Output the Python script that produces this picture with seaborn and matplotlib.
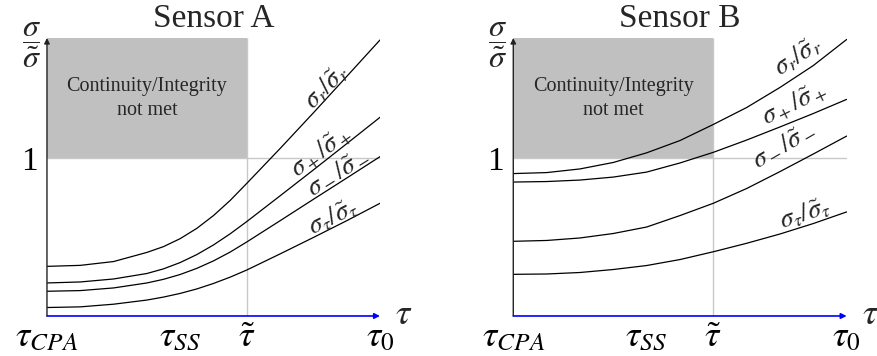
import numpy as np
import pandas as pd
import matplotlib
matplotlib.use("Agg")
import matplotlib.pyplot as plt
import seaborn as sns

# --- data (x in units of the tau axis, y = sigma / sigma~) ---
# Sensor A bends sharply around tau_SS, so it is read on a denser grid there
tau_a = [0, 0.5, 1, 1.5, 1.75, 2, 2.25, 2.5, 2.75, 3, 3.5, 4, 4.5, 5]
a_r = [0.349, 0.355, 0.378, 0.433, 0.468, 0.516, 0.578, 0.655, 0.746, 0.849,
       1.059, 1.274, 1.493, 1.713]
a_plus = [0.249, 0.255, 0.273, 0.306, 0.334, 0.372, 0.420, 0.478, 0.545, 0.619,
          0.774, 0.930, 1.088, 1.247]
a_minus = [0.199, 0.203, 0.219, 0.249, 0.271, 0.300, 0.337, 0.382, 0.435, 0.496,
           0.624, 0.753, 0.881, 1.010]
a_tau = [0.101, 0.105, 0.121, 0.146, 0.164, 0.186, 0.213, 0.246, 0.284, 0.327,
         0.424, 0.523, 0.624, 0.729]

tau_b = [0, 0.5, 1, 1.5, 2, 2.5, 3, 3.5, 4, 4.5, 5]
b_r = [0.908, 0.914, 0.936, 0.975, 1.033, 1.107, 1.204, 1.306, 1.427, 1.559, 1.716]
b_plus = [0.857, 0.860, 0.869, 0.887, 0.917, 0.972, 1.036, 1.110, 1.189, 1.270, 1.355]
b_minus = [0.500, 0.505, 0.520, 0.547, 0.586, 0.655, 0.729, 0.818, 0.920, 1.026, 1.134]
b_tau = [0.301, 0.303, 0.312, 0.330, 0.354, 0.390, 0.437, 0.488, 0.544, 0.607, 0.677]

curve_names = [r"$\sigma_r/\tilde{\sigma}_r$", r"$\sigma_+/\tilde{\sigma}_+$",
               r"$\sigma_-/\tilde{\sigma}_-$", r"$\sigma_\tau/\tilde{\sigma}_\tau$"]

xtick_pos = [0, 1, 2, 3, 4, 5]
xtick_labels = [r"$\tau_{CPA}$", "", r"$\tau_{SS}$", r"$\tilde{\tau}$", "", r"$\tau_0$"]
ytick_pos = [0.5, 1, 1.5]
ytick_labels = ["", "1", ""]

tau_tilde = 3
sigma_limit = 1
ymin, ymax = 0.05, 1.725

# --- style ---
sns.set_theme(style="white")
plt.rcParams["font.family"] = ["Liberation Serif", "DejaVu Serif"]
plt.rcParams["mathtext.fontset"] = "stix"

fig = plt.figure(figsize=(8.78, 3.56), dpi=100)
ax_a = fig.add_axes([0.0535, 0.1124, 0.3793, 0.7809])
ax_b = fig.add_axes([0.5846, 0.1124, 0.3797, 0.7809])

# label placement (x, y, rotation) per curve, per panel
label_pos_a = [(4.2, 1.43, 45), (4.12, 1.04, 36), (4.36, 0.925, 32), (4.3, 0.65, 26)]
label_pos_b = [(4.26, 1.615, 33), (4.22, 1.33, 26), (4.05, 1.085, 30), (4.37, 0.665, 18)]


def draw_panel(ax, title, x, curves, label_pos):
    ax.set_xlim(0, 5)
    ax.set_ylim(ymin, ymax)
    for s in ax.spines.values():
        s.set_visible(False)

    # not-met region and guide lines
    ax.fill_between([0, tau_tilde], sigma_limit, ymax, color="#c0c0c0", lw=0, zorder=0)
    ax.hlines(sigma_limit, 0, 5, color="#c8c8c8", lw=1.0, zorder=1)
    ax.vlines(tau_tilde, ymin, ymax, color="#c8c8c8", lw=1.0, zorder=1)
    ax.text(1.5, 1.36, "Continuity/Integrity\nnot met", ha="center", va="center",
            fontsize=14.5, linespacing=1.35)

    for vals in curves:
        sns.lineplot(x=x, y=vals, ax=ax, color="black", lw=0.9,
                     estimator=None, sort=False, zorder=3)

    for name, (lx, ly, rot) in zip(curve_names, label_pos):
        ax.text(lx, ly, name, ha="center", va="center", rotation=rot,
                rotation_mode="anchor", fontsize=19)

    # axes with arrows
    ax.annotate("", xy=(1, 0), xytext=(0, 0), xycoords="axes fraction",
                arrowprops=dict(arrowstyle="-|>", color="blue", lw=1.2,
                                mutation_scale=8, shrinkA=0, shrinkB=0), zorder=4)
    ax.annotate("", xy=(0, 1), xytext=(0, 0), xycoords="axes fraction",
                arrowprops=dict(arrowstyle="-|>", color="#222222", lw=1.0,
                                mutation_scale=8, shrinkA=0, shrinkB=0), zorder=4)

    ax.set_xticks(xtick_pos)
    ax.set_xticklabels(xtick_labels, fontsize=26)
    ax.set_yticks(ytick_pos)
    ax.set_yticklabels(ytick_labels, fontsize=24)
    ax.tick_params(axis="both", direction="inout", length=6, width=0.8,
                   color="#888888", labelcolor="black")
    ax.tick_params(axis="x", pad=1)
    ax.tick_params(axis="y", pad=4)

    ax.text(1.045, 0.0, r"$\tau$", transform=ax.transAxes, ha="left", va="center",
            fontsize=26)
    ax.text(-0.047, 0.975, r"$\dfrac{\sigma}{\tilde{\sigma}}$", transform=ax.transAxes,
            ha="center", va="center", fontsize=23)
    ax.set_title(title, fontsize=24, pad=8)
    ax.set_xlabel("")
    ax.set_ylabel("")


draw_panel(ax_a, "Sensor A", tau_a, [a_r, a_plus, a_minus, a_tau], label_pos_a)
draw_panel(ax_b, "Sensor B", tau_b, [b_r, b_plus, b_minus, b_tau], label_pos_b)

fig.savefig("out.png", dpi=100)
